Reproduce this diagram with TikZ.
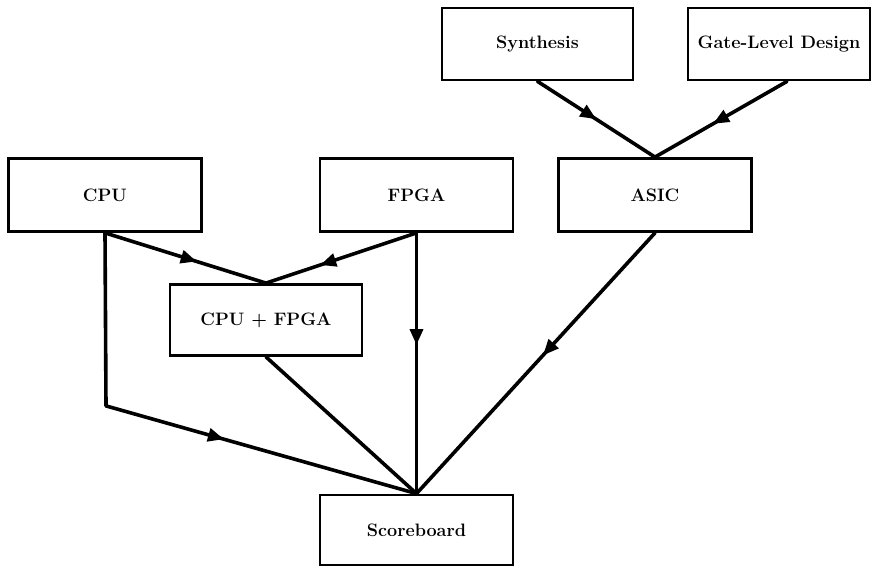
\documentclass[tikz,border=0pt]{standalone}
\usetikzlibrary{arrows.meta,decorations.markings,calc}
\begin{document}
\begin{tikzpicture}[x=1pt,y=-1pt,
  blk/.style={draw,line width=2.8pt,rectangle,minimum width=#1,minimum height=73pt,
              inner sep=0pt,font=\fontsize{18}{21}\selectfont\bfseries},
  blk/.default=193pt,
  wire/.style={line width=3.6pt,line cap=round,line join=round},
  midarrow/.style={wire,postaction={decorate},decoration={markings,
     mark=at position #1 with {\arrow{Triangle[length=16pt,width=13pt]}}}}]
\useasboundingbox (0,0) rectangle (872,569);
% blocks
\node[blk] (cpu)   at (105,195)   {CPU};
\node[blk] (fpga)  at (416.5,195) {FPGA};
\node[blk] (asic)  at (655,195)   {ASIC};
\node[blk=192pt,minimum height=71pt] (mix) at (266,320) {CPU + FPGA};
\node[blk=191pt,minimum height=72pt] (syn)  at (537.5,44) {Synthesis};
\node[blk=182pt,minimum height=72pt] (gate) at (779,44)   {Gate-Level Design};
\node[blk,minimum height=70pt] (score) at (416.5,530) {Scoreboard};
% connection points
\coordinate (gateout) at ($(gate.south)+(8,0)$);
\coordinate (bend) at ($(cpu.south)+(1,173)$);
% connectors
\draw[midarrow=0.5]  (syn.south) -- (asic.north);
\draw[midarrow=0.56] (gateout) -- (asic.north);
\draw[midarrow=0.57] (cpu.south) -- (mix.north);
\draw[midarrow=0.64] (fpga.south) -- (mix.north);
\draw[midarrow=0.43] (fpga.south) -- (score.north);
\draw[wire] (cpu.south) -- (bend);
\draw[midarrow=0.38] (bend) -- (score.north);
\draw[wire] (mix.south) -- (score.north);
\draw[midarrow=0.47] (asic.south) -- (score.north);
\end{tikzpicture}
\end{document}
